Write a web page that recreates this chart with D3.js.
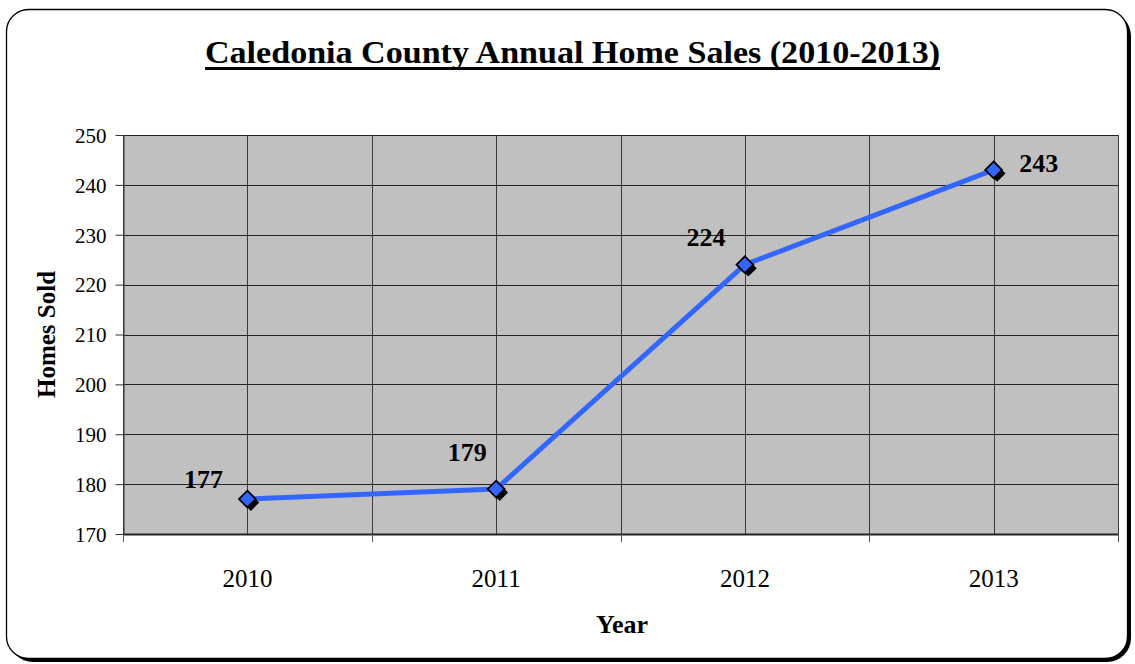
<!DOCTYPE html>
<html>
<head>
<meta charset="utf-8">
<script src="https://cdn.jsdelivr.net/npm/d3@7"></script>
<style>
  html, body { margin: 0; padding: 0; background: #fff; }
  svg { display: block; }
</style>
</head>
<body>
<svg id="chart" width="1135" height="664"></svg>
<script>
// Annual home sales, Caledonia County
const years = ["2010", "2011", "2012", "2013"];
const homesSold = [177, 179, 224, 243];
const yTicks = [170, 180, 190, 200, 210, 220, 230, 240, 250];

const svg = d3.select("#chart");
const W = 1135, H = 664;
const serif = "'Liberation Serif', 'Times New Roman', Times, serif";

// Rounded frame with a drop shadow at the lower right
svg.append("rect")
  .attr("x", 9).attr("y", 12).attr("width", W - 13).attr("height", H - 14)
  .attr("rx", 24).attr("fill", "#000");
svg.append("rect")
  .attr("x", 6.5).attr("y", 9.5).attr("width", W - 14).attr("height", H - 15)
  .attr("rx", 22).attr("fill", "#fff").attr("stroke", "#000").attr("stroke-width", 1.3);

const plot = { left: 123, right: 1118, top: 135, bottom: 534 };

const x = d3.scaleBand().domain(years).range([plot.left, plot.right]).padding(0);
const y = d3.scaleLinear().domain([170, 250]).range([plot.bottom, plot.top]);

// Plot background
svg.append("rect")
  .attr("x", plot.left).attr("y", plot.top)
  .attr("width", plot.right - plot.left).attr("height", plot.bottom - plot.top)
  .attr("fill", "#c0c0c0");

// Horizontal gridlines
svg.append("g").selectAll("line").data(yTicks).join("line")
  .attr("x1", plot.left).attr("x2", plot.right)
  .attr("y1", d => Math.round(y(d)) + 0.5).attr("y2", d => Math.round(y(d)) + 0.5)
  .attr("stroke", "#222").attr("stroke-width", 1);

// Vertical gridlines at category centres and boundaries
const vLines = [];
years.forEach(yr => {
  vLines.push(x(yr));
  vLines.push(x(yr) + x.bandwidth() / 2);
});
vLines.push(plot.right);
svg.append("g").selectAll("line").data(vLines).join("line")
  .attr("x1", d => Math.round(d) + 0.5).attr("x2", d => Math.round(d) + 0.5)
  .attr("y1", plot.top).attr("y2", plot.bottom)
  .attr("stroke", "#3a3a3a").attr("stroke-width", 1);

// Y axis
const yAxis = svg.append("g")
  .attr("transform", `translate(${plot.left + 0.5},0)`)
  .call(d3.axisLeft(y).tickValues(yTicks).tickSize(8).tickPadding(9).tickSizeOuter(0));
yAxis.attr("font-size", null).attr("font-family", null);
yAxis.select(".domain").attr("stroke", "#333");
yAxis.selectAll(".tick line").attr("stroke", "#333");
yAxis.selectAll("text")
  .attr("dy", "0.35em")
  .style("font-family", serif).style("font-size", "21px").attr("fill", "#000");

// X axis: ticks at the category boundaries, labels at centres
const xAxisG = svg.append("g").attr("transform", `translate(0,${plot.bottom})`);
xAxisG.append("line")
  .attr("x1", plot.left).attr("x2", plot.right)
  .attr("y1", 0.5).attr("y2", 0.5)
  .attr("stroke", "#222").attr("stroke-width", 2);
const bounds = years.map(yr => x(yr)).concat([plot.right]);
xAxisG.selectAll("line.tk").data(bounds).join("line").attr("class", "tk")
  .attr("x1", d => Math.round(d) + 0.5).attr("x2", d => Math.round(d) + 0.5)
  .attr("y1", 0).attr("y2", 8)
  .attr("stroke", "#555");
xAxisG.selectAll("text").data(years).join("text")
  .attr("x", d => x(d) + x.bandwidth() / 2)
  .attr("y", 53)
  .attr("text-anchor", "middle")
  .style("font-family", serif).style("font-size", "25px").attr("fill", "#000")
  .text(d => d);

// Title
svg.append("text")
  .attr("x", 572.5).attr("y", 63)
  .attr("text-anchor", "middle")
  .attr("textLength", 735).attr("lengthAdjust", "spacingAndGlyphs")
  .style("font-family", serif).style("font-size", "32px").style("font-weight", "bold")
  .text("Caledonia County Annual Home Sales (2010-2013)");
// Title underline
svg.append("rect")
  .attr("x", 205).attr("y", 67).attr("width", 735).attr("height", 3)
  .attr("fill", "#000");

// Axis titles
svg.append("text")
  .attr("transform", `translate(55,${(plot.top + plot.bottom) / 2}) rotate(-90)`)
  .attr("text-anchor", "middle")
  .style("font-family", serif).style("font-size", "25px").style("font-weight", "bold")
  .text("Homes Sold");
svg.append("text")
  .attr("x", 622).attr("y", 633)
  .attr("text-anchor", "middle")
  .style("font-family", serif).style("font-size", "26px").style("font-weight", "bold")
  .text("Year");

// Series line
const pts = years.map((yr, i) => ({ year: yr, value: homesSold[i] }));
const cx = d => x(d.year) + x.bandwidth() / 2;
svg.append("path")
  .datum(pts)
  .attr("fill", "none")
  .attr("stroke", "#3366ff")
  .attr("stroke-width", 5)
  .attr("stroke-linejoin", "round")
  .attr("d", d3.line().x(cx).y(d => y(d.value)));

// Diamond markers with a dark offset shadow
const diamond = d3.symbol().type(d3.symbolDiamond2).size(180);
const markers = svg.append("g").selectAll("g").data(pts).join("g")
  .attr("transform", d => `translate(${cx(d)},${y(d.value)})`);
markers.append("path")
  .attr("d", diamond())
  .attr("transform", "translate(3.5,3.5)")
  .attr("fill", "#000");
markers.append("path")
  .attr("d", diamond())
  .attr("fill", "#3366ff")
  .attr("stroke", "#000").attr("stroke-width", 1.8);

// Value labels
const labelOffsets = [[-44, -11], [-29, -28], [-39, -19], [45, 2]];
svg.append("g").selectAll("text").data(pts).join("text")
  .attr("x", (d, i) => cx(d) + labelOffsets[i][0])
  .attr("y", (d, i) => y(d.value) + labelOffsets[i][1])
  .attr("text-anchor", "middle")
  .style("font-family", serif).style("font-size", "26px").style("font-weight", "bold")
  .text(d => d.value);
</script>
</body>
</html>
